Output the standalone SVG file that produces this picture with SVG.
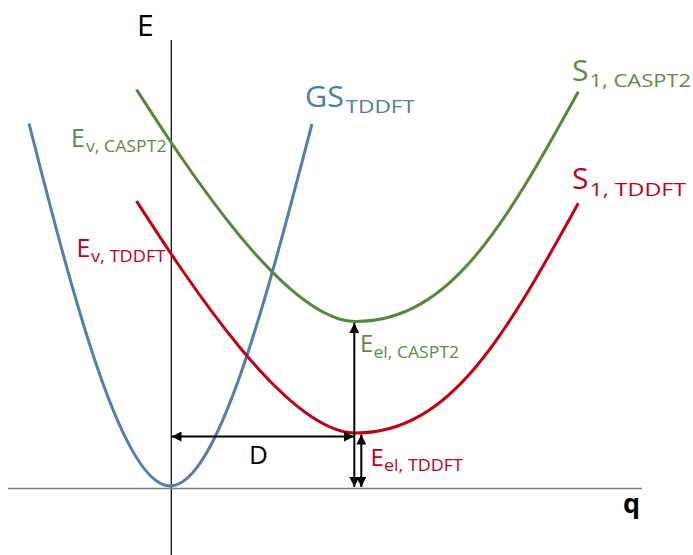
<svg xmlns="http://www.w3.org/2000/svg" width="693" height="555" viewBox="0 0 693 555">
<defs>
<style>
.curve{fill:none;stroke-width:3;stroke-linecap:butt}
.blue{stroke:#4f7fae}
.green{stroke:#56883a}
.red{stroke:#c3000f}
.arr{fill:none;stroke:#000;stroke-width:2;marker-start:url(#ah);marker-end:url(#ah)}
text{font-family:"Open Sans","DejaVu Sans",sans-serif}
.tb{fill:#4d7ba8}
.tg{fill:#5e8a45}
.tr{fill:#c0001a}
.tk{fill:#000}
.sub{font-size:18px}
.subs{font-size:16px}
</style>
<marker id="ah" viewBox="0 0 10 10" refX="10" refY="5" markerWidth="11" markerHeight="10" markerUnits="userSpaceOnUse" orient="auto-start-reverse">
<path d="M0,0 L10,5 L0,10 z" fill="#000"/>
</marker>
</defs>
<g id="axes">
<line x1="171.3" y1="40" x2="171.3" y2="555" stroke="#000" stroke-width="1.2"/>
<line x1="8" y1="488.5" x2="642" y2="488.5" stroke="#7f7f7f" stroke-width="1.6"/>
</g>
<g id="curves">
<path id="gs" class="curve blue" d="M29,123.5 C73,296.4 122,486 170,486 C218,486 267,296.4 312,124"/>
<path id="s1-caspt2" class="curve green" d="M136.5,89.5 C186.5,167 286,321.5 356,321.5 C451,321.5 506.3,222 578.3,91.7"/>
<path id="s1-tddft" class="curve red" d="M136.5,201 C186.5,278.5 286,433 356,433 C451,433 506.3,333.5 578.3,203.2"/>
</g>
<g id="connectors">
<line class="arr" x1="171.5" y1="436.5" x2="354" y2="436.5"/>
<line class="arr" x1="354.3" y1="323" x2="354.3" y2="487"/>
<line class="arr" x1="361.3" y1="434.5" x2="361.3" y2="487"/>
</g>
<g id="labels">
<text class="tk" x="137" y="36" font-size="30">E</text>
<text class="tk" x="623" y="513" font-size="27" font-weight="bold">q</text>
<text class="tk" x="249" y="464" font-size="26">D</text>
<g id="label-gs">
<text class="tb" x="305" y="107" font-size="29" textLength="39" lengthAdjust="spacingAndGlyphs">GS</text>
<text class="tb sub" x="345.5" y="113" textLength="69.5" lengthAdjust="spacingAndGlyphs">TDDFT</text>
</g>
<g id="label-s1-caspt2">
<text class="tg" x="572" y="81" font-size="30">S</text>
<text class="tg sub" x="589.5" y="87" textLength="101.5" lengthAdjust="spacingAndGlyphs">1, CASPT2</text>
</g>
<g id="label-s1-tddft">
<text class="tr" x="572" y="189" font-size="30">S</text>
<text class="tr sub" x="589.5" y="195.5" textLength="96.5" lengthAdjust="spacingAndGlyphs">1, TDDFT</text>
</g>
<g id="label-ev-caspt2">
<text class="tg" x="71" y="147" font-size="25">E</text>
<text class="tg subs" x="86" y="152" textLength="80.5" lengthAdjust="spacingAndGlyphs">v, CASPT2</text>
</g>
<g id="label-ev-tddft">
<text class="tr" x="76.5" y="257" font-size="25">E</text>
<text class="tr subs" x="91" y="262" textLength="74.5" lengthAdjust="spacingAndGlyphs">v, TDDFT</text>
</g>
<g id="label-eel-caspt2">
<text class="tg" x="360" y="352" font-size="24">E</text>
<text class="tg subs" x="373.5" y="357.5" textLength="85.5" lengthAdjust="spacingAndGlyphs">el, CASPT2</text>
</g>
<g id="label-eel-tddft">
<text class="tr" x="370.5" y="466" font-size="24">E</text>
<text class="tr subs" x="384" y="471" textLength="79" lengthAdjust="spacingAndGlyphs">el, TDDFT</text>
</g>
</g>
</svg>
